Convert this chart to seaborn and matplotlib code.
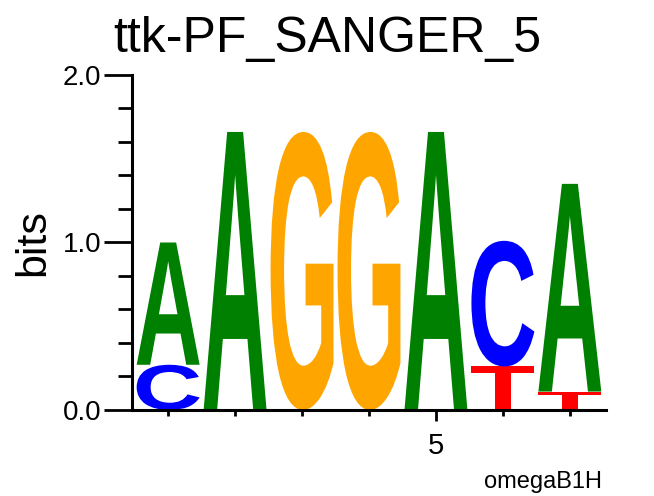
import numpy as np
import pandas as pd
import matplotlib
matplotlib.use('Agg')
import matplotlib.pyplot as plt
import seaborn as sns
from matplotlib.textpath import TextPath
from matplotlib.font_manager import FontProperties
from matplotlib.patches import PathPatch
from matplotlib.transforms import Affine2D
from matplotlib.ticker import FixedLocator, MultipleLocator

# letter heights (bits) per position
positions = [1, 2, 3, 4, 5, 6, 7]
bits_A = [0.73, 1.66, 0.0, 0.0, 1.66, 0.0, 1.24]
bits_C = [0.27, 0.0, 0.0, 0.0, 0.0, 0.75, 0.0]
bits_G = [0.0, 0.0, 1.66, 1.66, 0.0, 0.0, 0.0]
bits_T = [0.0, 0.0, 0.0, 0.0, 0.0, 0.26, 0.11]

colors = {'A': '#008000', 'C': '#0000ff', 'G': '#ffa500', 'T': '#ff0000'}

df = pd.DataFrame({'pos': positions, 'A': bits_A, 'C': bits_C,
                   'G': bits_G, 'T': bits_T})

sns.set_style("ticks")
plt.rcParams['font.family'] = ['Liberation Sans', 'DejaVu Sans']
for k in ['text.color', 'axes.labelcolor', 'xtick.color', 'ytick.color', 'axes.edgecolor']:
    plt.rcParams[k] = 'black'

fig = plt.figure(figsize=(6.54, 4.96), dpi=100)
ax = fig.add_axes([0.2018, 0.1734, 0.7248, 0.6754])

letter_font = FontProperties(family='Liberation Sans', weight='bold')


def draw_letter(ax, ch, x, y0, h, width=0.94):
    tp = TextPath((0, 0), ch, size=1, prop=letter_font)
    bb = tp.get_extents()
    t = (Affine2D().translate(-bb.x0, -bb.y0)
         .scale(width / bb.width, h / bb.height)
         .translate(x - width / 2, y0))
    ax.add_patch(PathPatch(t.transform_path(tp), fc=colors[ch], ec='none', lw=0))


# stack letters, smallest at the bottom
for _, row in df.iterrows():
    heights = sorted([(row[c], c) for c in 'ACGT' if row[c] > 0])
    y = 0.0
    for h, c in heights:
        draw_letter(ax, c, row['pos'], y, h)
        y += h

ax.set_xlim(0.46, 7.54)
ax.set_ylim(0, 2)

ax.yaxis.set_major_locator(FixedLocator([0, 1, 2]))
ax.set_yticklabels(['0.0', '1.0', '2.0'])
ax.yaxis.set_minor_locator(MultipleLocator(0.2))
ax.xaxis.set_major_locator(FixedLocator([5]))
ax.set_xticklabels(['5'])
ax.xaxis.set_minor_locator(FixedLocator([1, 2, 3, 4, 6, 7]))

ax.tick_params(axis='y', which='major', length=20, width=2, labelsize=20, pad=2)
ax.tick_params(axis='y', which='minor', length=10, width=2)
ax.tick_params(axis='x', which='major', length=8, width=2, labelsize=21, pad=8)
ax.tick_params(axis='x', which='minor', length=4.5, width=2)

sns.despine(ax=ax)
for s in ['left', 'bottom']:
    ax.spines[s].set_linewidth(2.2)

ax.set_ylabel('bits', fontsize=31, labelpad=7)

fig.text(0.5, 1 - 51.5 / 496, 'ttk-PF_SANGER_5', ha='center', va='baseline', fontsize=36)
fig.text(602 / 654, 1 - 488 / 496, 'omegaB1H', ha='right', va='baseline', fontsize=17)

fig.savefig('out.png', dpi=100)
